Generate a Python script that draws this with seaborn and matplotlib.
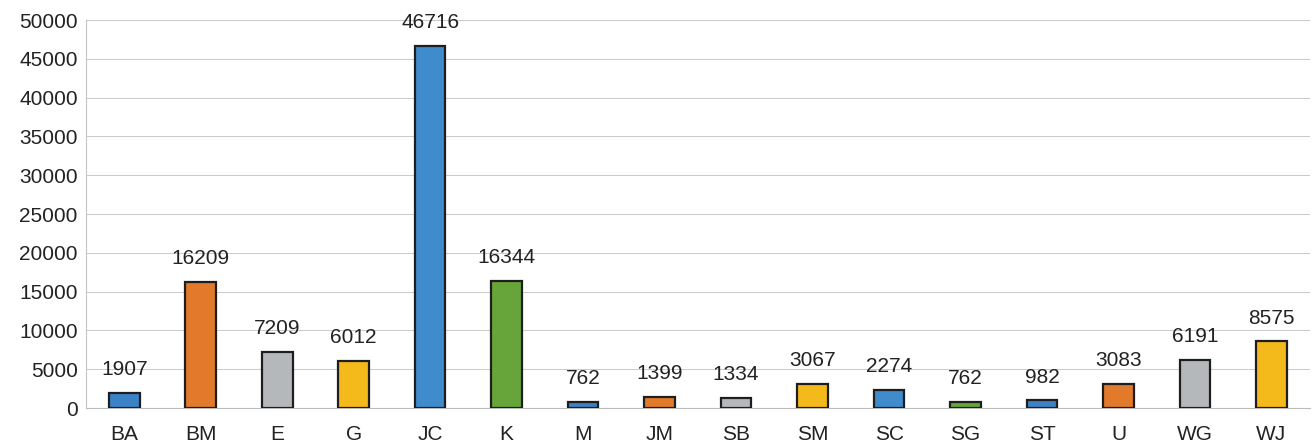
import matplotlib
matplotlib.use("Agg")
import matplotlib.pyplot as plt
import seaborn as sns
import pandas as pd

categories = ["BA", "BM", "E", "G", "JC", "K", "M", "JM", "SB", "SM", "SC", "SG", "ST", "U", "WG", "WJ"]
values = [1907, 16209, 7209, 6012, 46716, 16344, 762, 1399, 1334, 3067, 2274, 762, 982, 3083, 6191, 8575]
bar_colors = ["#3C82C6", "#E27A2C", "#B5B8BA", "#F4B91A", "#3F8BCB", "#67A53A",
              "#3C82C6", "#E27A2C", "#B5B8BA", "#F4B91A", "#3F8BCB", "#67A53A",
              "#3C82C6", "#E27A2C", "#B5B8BA", "#F4B91A"]
yticks = list(range(0, 50001, 5000))

sns.set_theme(style="white")
plt.rcParams["font.family"] = ["Liberation Sans", "DejaVu Sans"]

df = pd.DataFrame({"cat": categories, "val": values})

fig = plt.figure(figsize=(13.15, 4.47), dpi=100)
ax = fig.add_axes([0.0654, 0.0872, 0.9306, 0.8678])

sns.barplot(data=df, x="cat", y="val", hue="cat", palette=bar_colors, legend=False,
            saturation=1, width=0.4, edgecolor="#1E1E1E", linewidth=1.6, ax=ax, zorder=3)

ax.set_ylim(0, 50000)
ax.set_xlim(-0.5, len(categories) - 0.5)
ax.set_yticks(yticks)
ax.set_yticklabels([str(t) for t in yticks])
ax.grid(axis="y", color="#C9C9C9", linewidth=0.7, zorder=0)
ax.set_axisbelow(True)
for s in ["top", "right"]:
    ax.spines[s].set_visible(False)
ax.spines["left"].set_color("#C4C4C4")
ax.spines["left"].set_linewidth(0.8)
ax.spines["bottom"].set_color("#BBBBBB")
ax.spines["bottom"].set_linewidth(0.8)
ax.set_xlabel("")
ax.set_ylabel("")
ax.tick_params(axis="both", labelsize=15, colors="#222222", length=0, pad=6)
ax.tick_params(axis="x", pad=12)

for container in ax.containers:
    ax.bar_label(container, fmt="%d", padding=10, fontsize=15, color="#222222")

fig.savefig("out.png", dpi=100)
